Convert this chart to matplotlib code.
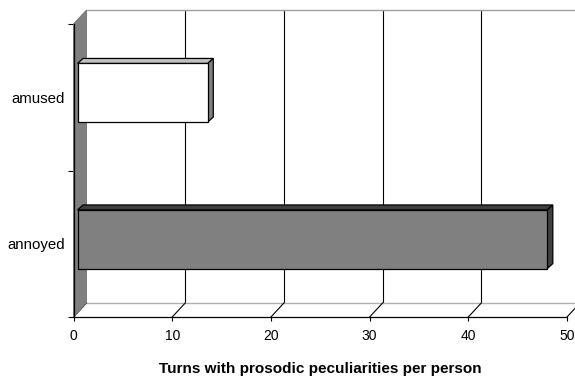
import matplotlib
matplotlib.use('Agg')
import matplotlib.pyplot as plt
from matplotlib.transforms import Affine2D, IdentityTransform
from matplotlib.patches import Polygon, Rectangle

# ---- data ----
categories = ['annoyed', 'amused']
values = [47.6, 13.2]
front_colors = ['#808080', '#ffffff']
top_colors = ['#404040', '#c0c0c0']
side_colors = ['#404040', '#808080']
xticks = [0, 10, 20, 30, 40, 50]
xlabel = 'Turns with prosodic peculiarities per person'

plt.rcParams['font.family'] = ['Liberation Sans', 'DejaVu Sans']

W, H = 575, 377
fig = plt.figure(figsize=(W / 100, H / 100), dpi=100)
fig.patch.set_facecolor('white')
ax = fig.add_axes([73.5 / W, 60 / H, (567 - 73.5) / W, 293 / H])
ax.set_xlim(0, 50)
ax.set_ylim(-0.5, 1.5)
ax.patch.set_visible(False)
for s in ['top', 'right']:
    ax.spines[s].set_visible(False)
for s in ['left', 'bottom']:
    ax.spines[s].set_linewidth(0.9)
    ax.spines[s].set_color('black')
    ax.spines[s].set_zorder(6)

DX, DY = 13, 14          # full depth offset (pixels)
BF = (4, 4.5)            # bar front-plane offset
BB = (9.5, 9.5)          # bar back-plane offset
bar_h = 0.4


def off(dx, dy):
    return ax.transData + Affine2D().translate(dx, dy)


def disp(x, y, d=(0, 0)):
    px, py = ax.transData.transform((x, y))
    return (px + d[0], py + d[1])


ident = IdentityTransform()

# back wall
ax.add_patch(Rectangle((0, -0.5), 60, 2, transform=off(DX, DY), facecolor='white',
                       edgecolor='none', zorder=0, clip_on=False))
for x in xticks[1:]:
    ax.plot([x, x], [-0.5, 1.5], color='black', lw=0.8, transform=off(DX, DY),
            zorder=1.5, clip_on=False)
ax.plot([0, 60], [1.5, 1.5], color='#a0a0a0', lw=1.0, transform=off(DX, DY),
        zorder=1.5, clip_on=False)

# floor
floor = [disp(0, -0.5), disp(60, -0.5), disp(60, -0.5, (DX, DY)), disp(0, -0.5, (DX, DY))]
ax.add_patch(Polygon(floor, closed=True, transform=ident, facecolor='white',
                     edgecolor='none', zorder=1, clip_on=False))
ax.plot([0, 60], [-0.5, -0.5], color='#b0b0b0', lw=1.0, transform=off(DX, DY),
        zorder=1.6, clip_on=False)
for x in xticks:
    p0 = disp(x, -0.5)
    p1 = disp(x, -0.5, (DX, DY))
    ax.plot([p0[0], p1[0]], [p0[1], p1[1]], color='black', lw=0.8, transform=ident,
            zorder=1.7, clip_on=False)

# left wall
wall = [disp(0, -0.5), disp(0, 1.5), disp(0, 1.5, (DX, DY)), disp(0, -0.5, (DX, DY))]
ax.add_patch(Polygon(wall, closed=True, transform=ident, facecolor='#808080',
                     edgecolor='#707070', lw=0.6, zorder=2, clip_on=False))

# bars
for i, (cat, v) in enumerate(zip(categories, values)):
    y0, y1 = i - bar_h / 2, i + bar_h / 2
    top = [disp(0, y1, BF), disp(v, y1, BF), disp(v, y1, BB), disp(0, y1, BB)]
    side = [disp(v, y0, BF), disp(v, y1, BF), disp(v, y1, BB), disp(v, y0, BB)]
    ax.add_patch(Polygon(top, closed=True, transform=ident, facecolor=top_colors[i],
                         edgecolor='black', lw=0.9, zorder=3, clip_on=False))
    ax.add_patch(Polygon(side, closed=True, transform=ident, facecolor=side_colors[i],
                         edgecolor='black', lw=0.9, zorder=3, clip_on=False))
    ax.add_patch(Rectangle((0, y0), v, bar_h, transform=off(*BF), facecolor=front_colors[i],
                           edgecolor='black', lw=0.9, zorder=4, clip_on=False))

# ticks
ax.set_xticks(xticks)
ax.set_xticklabels([str(t) for t in xticks], fontsize=10, color='black')
ax.tick_params(axis='x', direction='out', length=3, width=0.8, pad=6)
ax.set_yticks([-0.5, 0.5, 1.5])
ax.set_yticklabels(['', '', ''])
ax.set_yticks([0, 1], minor=True)
ax.set_yticklabels(categories, minor=True, fontsize=10.8)
ax.tick_params(axis='y', which='minor', length=0, pad=6)
ax.tick_params(axis='y', which='major', direction='out', length=4, width=0.8)
ax.set_xlabel(xlabel, fontsize=11, fontweight='bold', labelpad=13)

fig.savefig('out.png', dpi=100)
